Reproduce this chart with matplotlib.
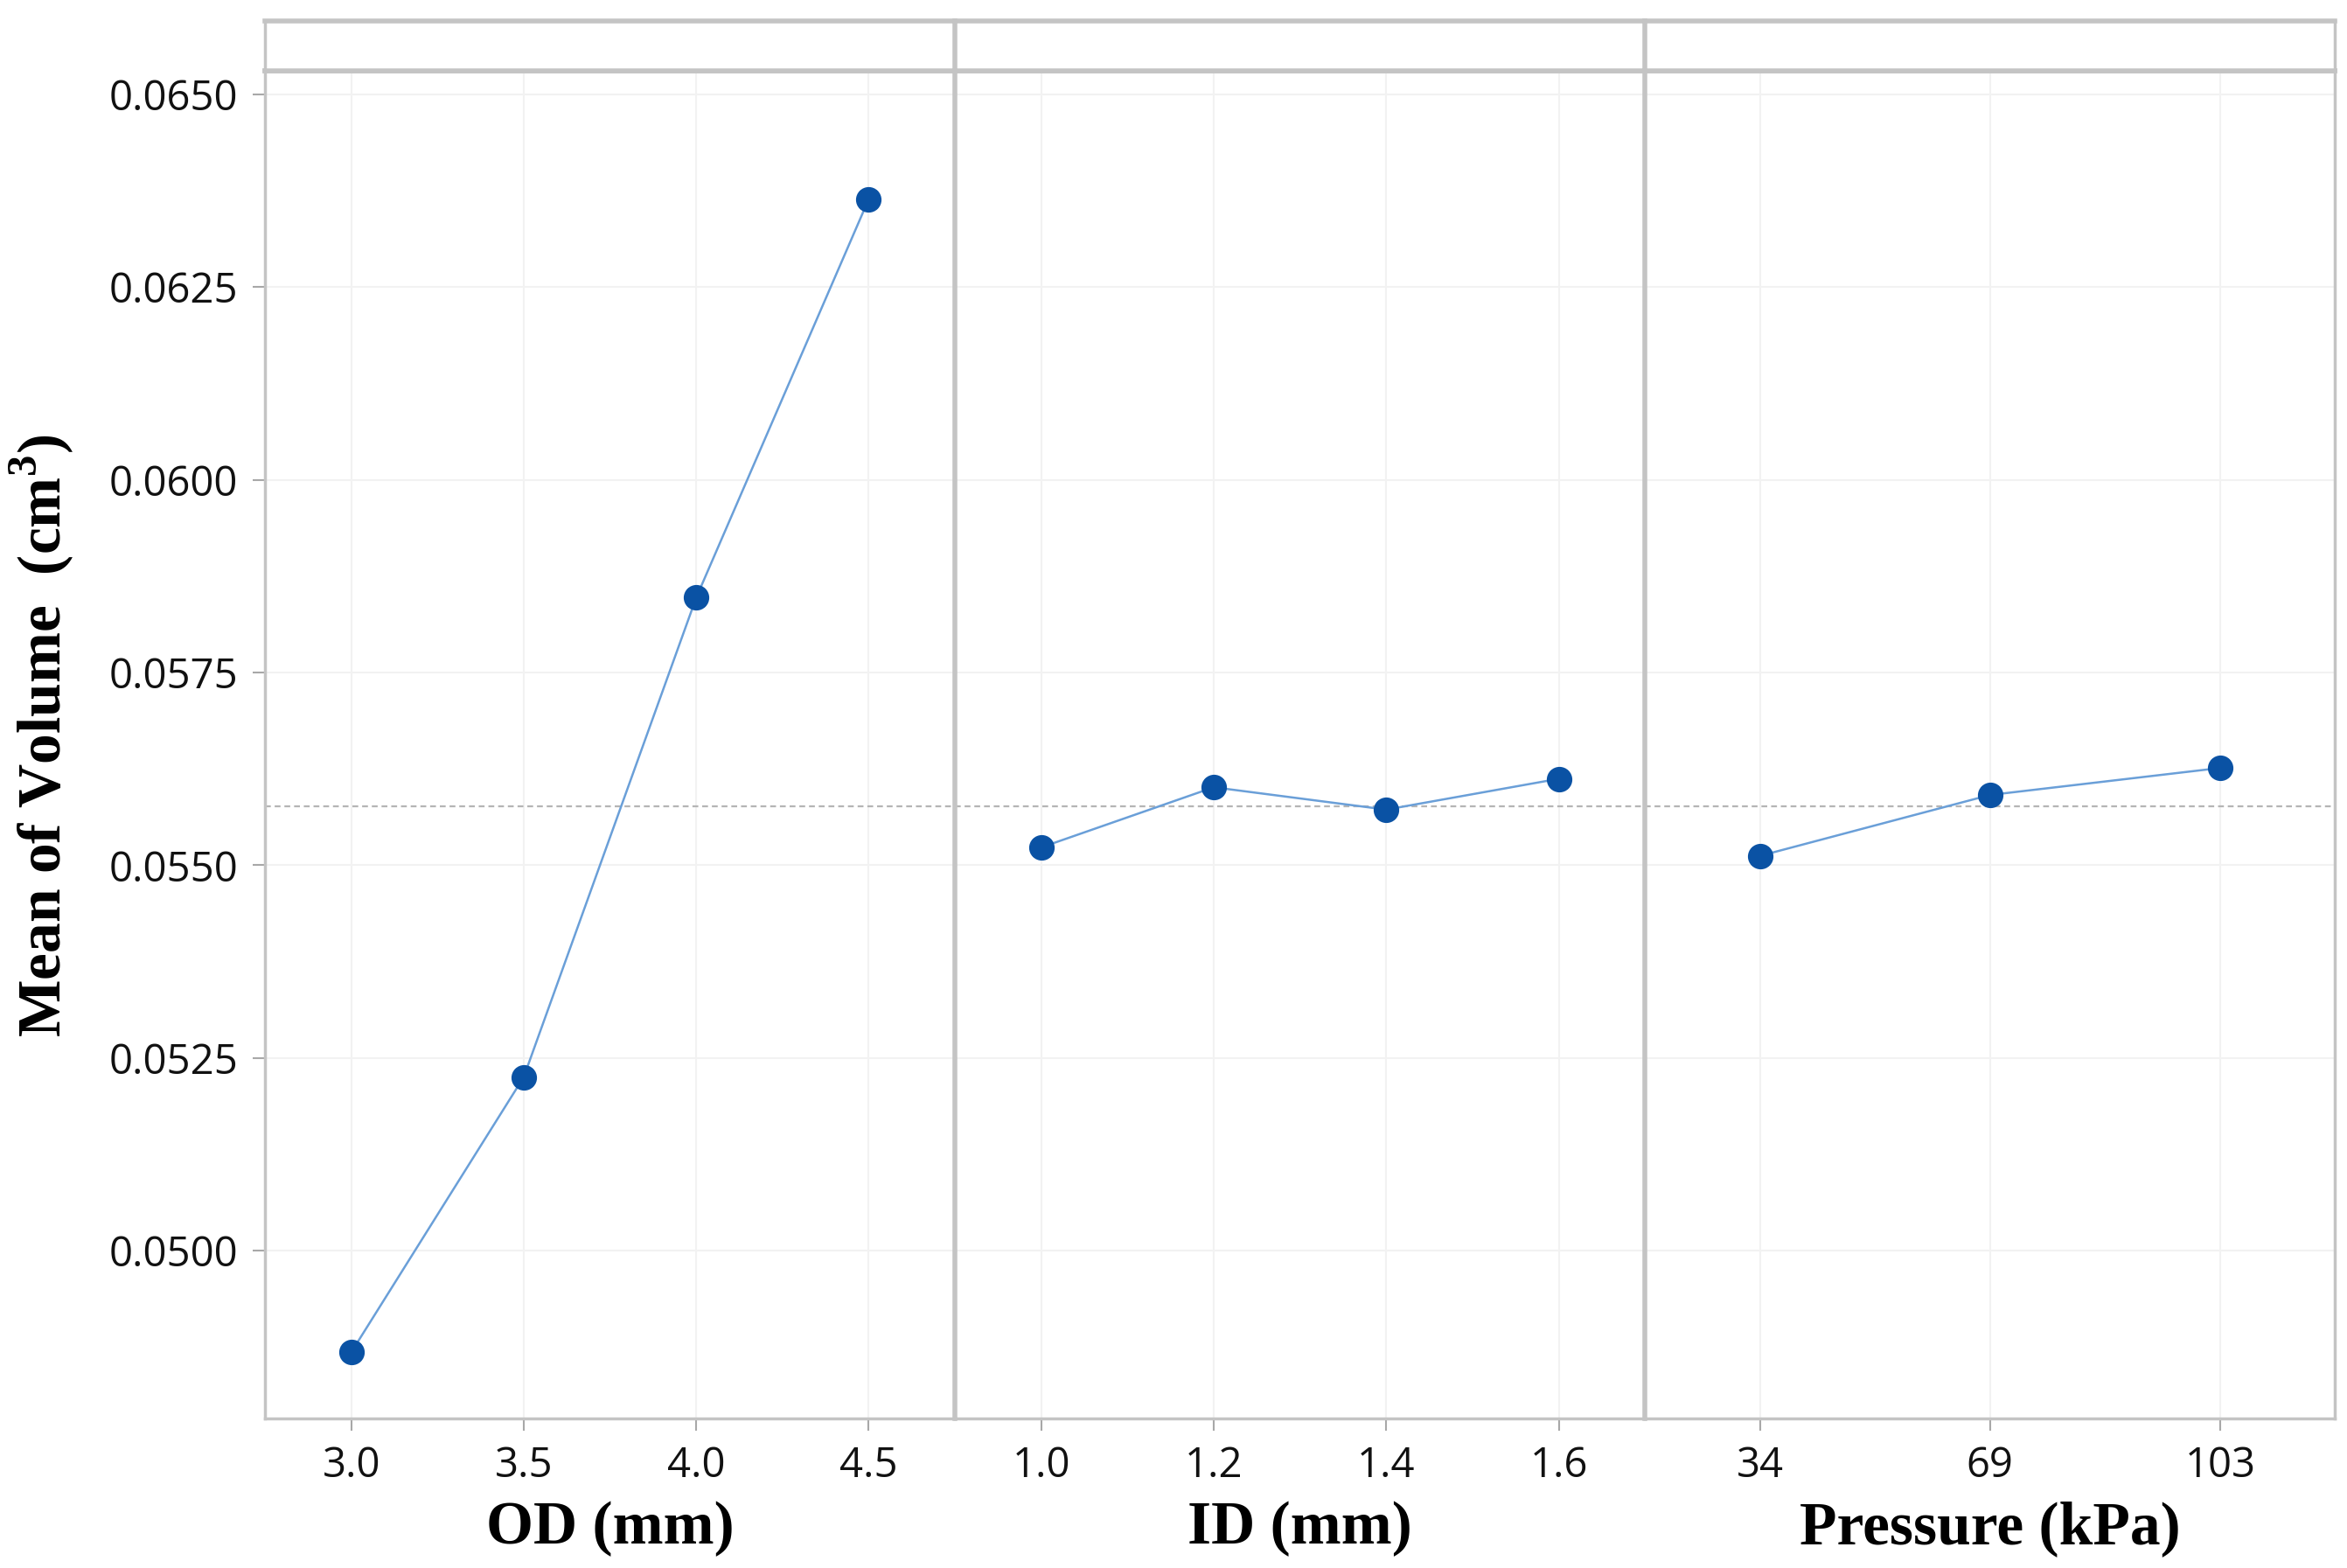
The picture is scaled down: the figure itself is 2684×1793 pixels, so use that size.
"""Main effects plot for mean of volume."""

import matplotlib.pyplot as plt
import numpy as np

od_levels = ["3.0", "3.5", "4.0", "4.5"]
od_means = [0.04868, 0.05225, 0.05847, 0.06364]

id_levels = ["1.0", "1.2", "1.4", "1.6"]
id_means = [0.05523, 0.05601, 0.05572, 0.05612]

pressure_levels = ["34", "69", "103"]
pressure_means = [0.05512, 0.05591, 0.05626]

factor_labels = ["OD (mm)", "ID (mm)", "Pressure (kPa)"]
y_ticks = [0.0500, 0.0525, 0.0550, 0.0575, 0.0600, 0.0625, 0.0650]

LINE_COLOR = "#6a9fd8"
MARKER_COLOR = "#0a52a4"
FRAME_COLOR = "#c4c4c4"
GRID_COLOR = "#f2f2f2"

panels = [
    (od_levels, od_means),
    (id_levels, id_means),
    (pressure_levels, pressure_means),
]
grand_mean = float(np.mean(od_means))

fig = plt.figure(figsize=(26.84, 17.93), dpi=100)

left, right = 0.1129, 0.9949
bottom, top_data, top_strip = 0.0955, 0.9551, 0.9866
panel_w = (right - left) / len(panels)

for i, ((levels, means), label) in enumerate(zip(panels, factor_labels)):
    x0 = left + i * panel_w
    ax = fig.add_axes([x0, bottom, panel_w, top_data - bottom])
    strip = fig.add_axes([x0, top_data, panel_w, top_strip - top_data])

    x = np.arange(len(levels))
    ax.axhline(grand_mean, color="#b5b5b5", lw=1.6, ls=(0, (3, 2)), zorder=1)
    ax.plot(x, means, color=LINE_COLOR, lw=1.8, zorder=2)
    ax.plot(x, means, "o", color=MARKER_COLOR, ms=20, mec=MARKER_COLOR, zorder=3)

    ax.set_xlim(-0.5, len(levels) - 0.5)
    ax.set_ylim(0.047824, 0.06531)
    ax.set_xticks(x)
    ax.set_xticklabels(levels, family="Open Sans", fontsize=34, color="#111111")
    ax.set_yticks(y_ticks)
    ax.grid(True, color=GRID_COLOR, lw=1.5, zorder=0)
    ax.set_axisbelow(True)
    ax.tick_params(axis="both", color="#a8a8a8", length=10, width=1.5, pad=12)
    ax.set_xlabel(label, family="Liberation Serif", fontweight="bold",
                  fontsize=50, labelpad=12)

    if i == 0:
        ax.set_yticklabels([f"{v:.4f}" for v in y_ticks], family="Open Sans",
                           fontsize=34, color="#111111")
    else:
        ax.tick_params(axis="y", left=False, labelleft=False)

    for side, spine in ax.spines.items():
        spine.set_color(FRAME_COLOR)
        spine.set_linewidth(2.5)
    ax.spines["top"].set_linewidth(4)
    if i > 0:
        ax.spines["left"].set_linewidth(4)

    strip.set_xticks([])
    strip.set_yticks([])
    for side, spine in strip.spines.items():
        spine.set_color(FRAME_COLOR)
        spine.set_linewidth(4 if side in ("top", "bottom") else 2.5)
    if i > 0:
        strip.spines["left"].set_linewidth(4)

fig.text(0.018, 0.531, "Mean of Volume  (cm$^\\mathregular{3}$)", rotation=90,
         family="Liberation Serif", fontweight="bold", fontsize=50,
         ha="center", va="center")

fig.savefig("out.png", dpi=100)
plt.close(fig)
